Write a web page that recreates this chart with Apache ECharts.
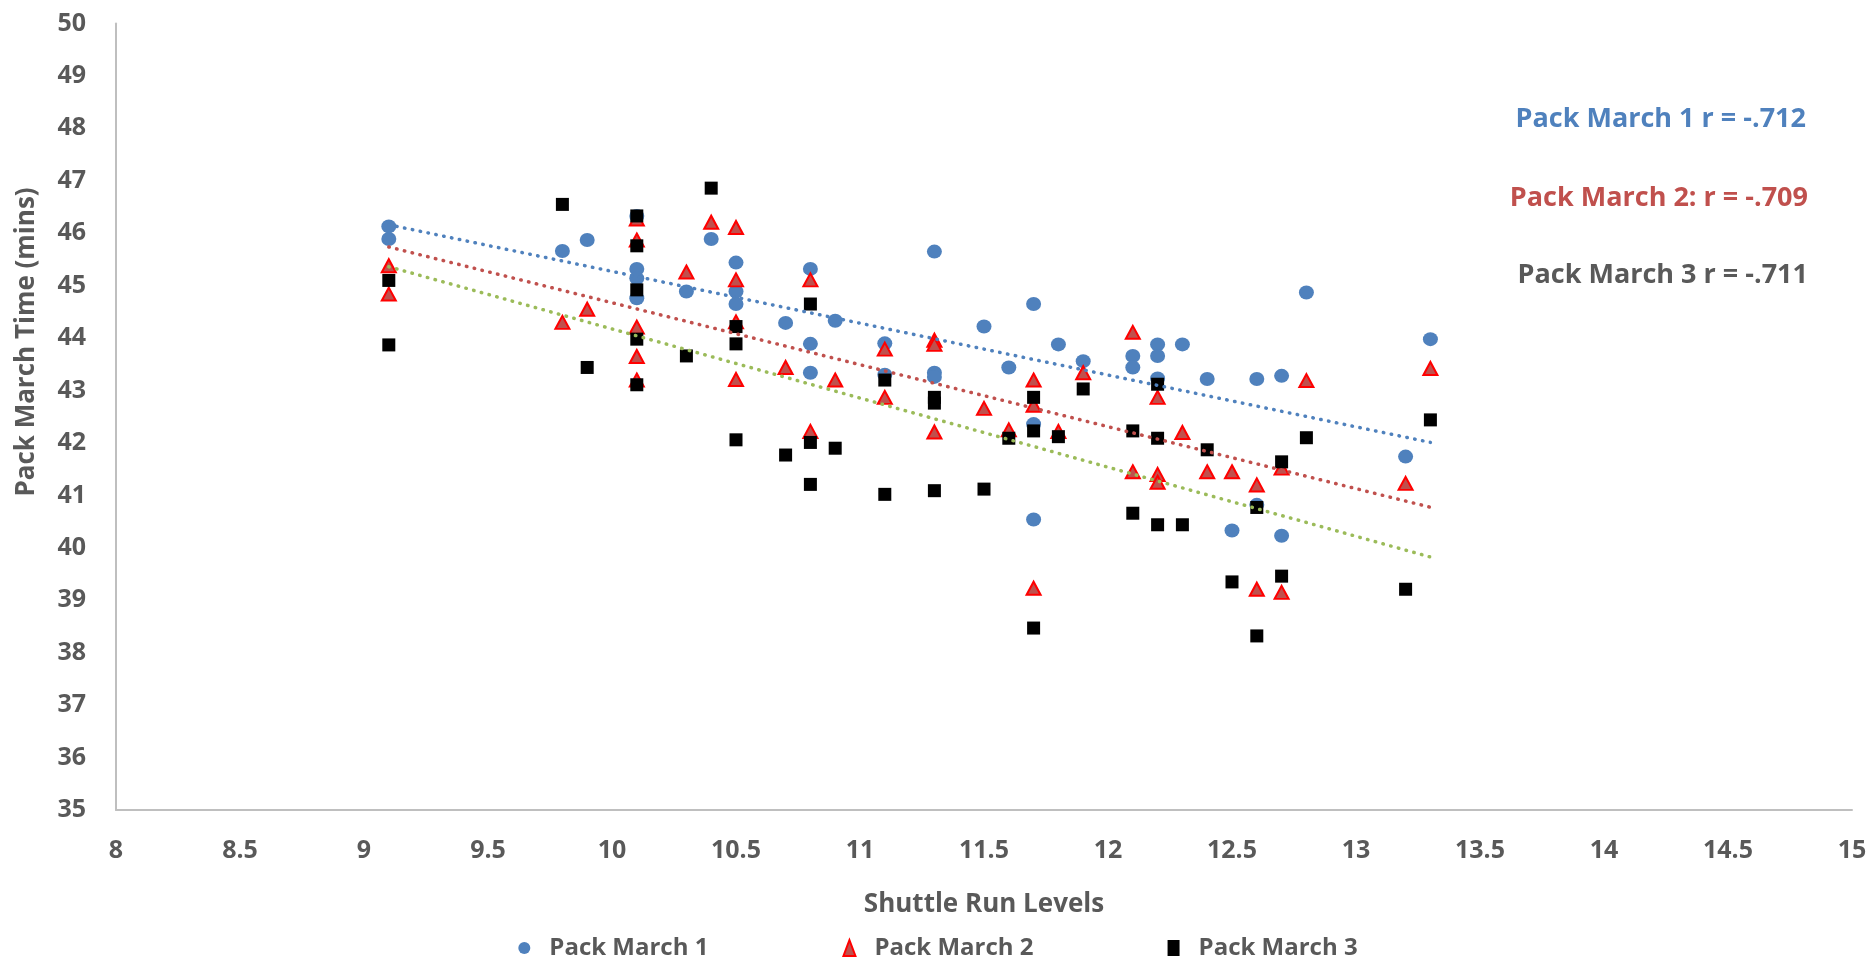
<!DOCTYPE html>
<html><head><meta charset="utf-8">
<script src="https://cdn.jsdelivr.net/npm/echarts@6/dist/echarts.min.js"></script>
<style>html,body{margin:0;padding:0;background:#fff}#chart{width:1876px;height:960px}</style>
</head><body><div id="chart"></div>
<script>
// Series names
const seriesNames = ['Pack March 1', 'Pack March 2', 'Pack March 3'];
// Correlation annotations
const corrLabels = ['Pack March 1 r = -.712', 'Pack March 2: r = -.709', 'Pack March 3 r = -.711'];
// Axis titles
const xTitle = 'Shuttle Run Levels';
const yTitle = 'Pack March Time (mins)';

// [shuttle run level, pack march time]
const pm1 = [
[9.1,46.13],[9.1,45.89],
[9.8,45.66],
[9.9,45.87],
[10.1,46.33],[10.1,45.32],[10.1,45.14],[10.1,44.76],
[10.3,44.89],
[10.4,45.89],
[10.5,45.44],[10.5,44.89],[10.5,44.65],
[10.7,44.29],
[10.8,45.32],[10.8,43.89],[10.8,43.34],
[10.9,44.33],
[11.1,43.90],[11.1,43.30],
[11.3,45.65],[11.3,43.34],[11.3,43.26],
[11.5,44.22],
[11.6,43.44],
[11.7,44.65],[11.7,42.36],[11.7,40.54],
[11.8,43.88],
[11.9,43.56],
[12.1,43.66],[12.1,43.44],
[12.2,43.88],[12.2,43.66],[12.2,43.23],
[12.3,43.88],
[12.4,43.22],
[12.5,40.33],
[12.6,43.22],[12.6,40.82],
[12.7,43.28],[12.7,40.23],
[12.8,44.87],
[13.2,41.74],
[13.3,43.98]
];
const pm2 = [
[9.1,45.38],[9.1,44.84],
[9.8,44.30],
[9.9,44.55],
[10.1,46.27],[10.1,45.87],[10.1,44.21],[10.1,43.65],[10.1,43.20],
[10.3,45.26],
[10.4,46.21],
[10.5,46.11],[10.5,45.11],[10.5,44.31],[10.5,43.21],
[10.7,43.44],
[10.8,45.11],[10.8,42.22],
[10.9,43.20],
[11.1,43.79],[11.1,42.87],
[11.3,43.96],[11.3,43.88],[11.3,42.21],
[11.5,42.66],
[11.6,42.25],
[11.7,43.20],[11.7,42.72],[11.7,39.23],
[11.8,42.22],
[11.9,43.34],
[12.1,44.11],[12.1,41.45],
[12.2,42.87],[12.2,41.40],[12.2,41.25],
[12.3,42.20],
[12.4,41.45],
[12.5,41.45],
[12.6,41.20],[12.6,39.21],
[12.7,41.52],[12.7,39.15],
[12.8,43.19],
[13.2,41.23],
[13.3,43.42]
];
const pm3 = [
[9.1,45.10],[9.1,43.87],
[9.8,46.55],
[9.9,43.44],
[10.1,46.33],[10.1,45.76],[10.1,44.92],[10.1,43.98],[10.1,43.11],
[10.3,43.66],
[10.4,46.86],
[10.5,44.22],[10.5,43.89],[10.5,42.06],
[10.7,41.77],
[10.8,44.65],[10.8,42.01],[10.8,41.21],
[10.9,41.90],
[11.1,43.20],[11.1,41.02],
[11.3,42.87],[11.3,42.76],[11.3,41.09],
[11.5,41.12],
[11.6,42.09],
[11.7,42.87],[11.7,42.23],[11.7,38.47],
[11.8,42.12],
[11.9,43.03],
[12.1,42.23],[12.1,40.66],
[12.2,43.12],[12.2,42.09],[12.2,40.44],
[12.3,40.44],
[12.4,41.87],
[12.5,39.35],
[12.6,40.77],[12.6,38.32],
[12.7,41.64],[12.7,39.46],
[12.8,42.10],
[13.2,39.21],
[13.3,42.44]
];

// least-squares linear trendline over the data's x range
function trend(pts) {
  const n = pts.length;
  let sx = 0, sy = 0, sxx = 0, sxy = 0, mn = Infinity, mx = -Infinity;
  pts.forEach(([x, y]) => { sx += x; sy += y; sxx += x * x; sxy += x * y; mn = Math.min(mn, x); mx = Math.max(mx, x); });
  const b = (n * sxy - sx * sy) / (n * sxx - sx * sx);
  const a = (sy - b * sx) / n;
  return [[mn, a + b * mn], [mx, a + b * mx]];
}

const FONT = 'Open Sans';
const TXT = '#595959';
const chart = echarts.init(document.getElementById('chart'), null, { renderer: 'canvas' });

const dotted = (color) => ({ color: color, width: 3.5, type: [0.5, 7.5], cap: 'round' });

chart.setOption({
  backgroundColor: '#fff',
  animation: false,
  grid: { left: 116, right: 24, top: 23.5, bottom: 150, containLabel: false },
  xAxis: {
    type: 'value', min: 8, max: 15, interval: 0.5,
    name: xTitle, nameLocation: 'middle', nameGap: 82,
    nameTextStyle: { fontFamily: FONT, fontWeight: 'bold', fontSize: 26, color: TXT },
    axisLine: { show: true, lineStyle: { color: '#BFBFBF', width: 2 } },
    axisTick: { show: false },
    splitLine: { show: false },
    axisLabel: { margin: 28, fontFamily: FONT, fontWeight: 'bold', fontSize: 25, color: TXT }
  },
  yAxis: {
    type: 'value', min: 35, max: 50, interval: 1,
    axisLine: { show: true, lineStyle: { color: '#BFBFBF', width: 2 } },
    axisTick: { show: false },
    splitLine: { show: false },
    axisLabel: { margin: 30, fontFamily: FONT, fontWeight: 'bold', fontSize: 25, color: TXT }
  },
  legend: {
    data: seriesNames, left: 'center', top: 931,
    itemWidth: 12, itemHeight: 16, itemGap: 134,
    textStyle: { fontFamily: FONT, fontWeight: 'bold', fontSize: 24, color: TXT, padding: [0, 0, 0, 14] }
  },
  graphic: [
    { type: 'text', x: 27, y: 342, rotation: Math.PI / 2,
      style: { text: yTitle, fontFamily: FONT, fontWeight: 'bold', fontSize: 26, fill: TXT, align: 'center', verticalAlign: 'middle' } },
    { type: 'text', x: 1806, y: 119,
      style: { text: corrLabels[0], fontFamily: FONT, fontWeight: 'bold', fontSize: 27, fill: '#4F81BD', align: 'right', verticalAlign: 'middle' } },
    { type: 'text', x: 1808, y: 198,
      style: { text: corrLabels[1], fontFamily: FONT, fontWeight: 'bold', fontSize: 27, fill: '#C0504D', align: 'right', verticalAlign: 'middle' } },
    { type: 'text', x: 1808, y: 275,
      style: { text: corrLabels[2], fontFamily: FONT, fontWeight: 'bold', fontSize: 27, fill: TXT, align: 'right', verticalAlign: 'middle' } }
  ],
  series: [
    { name: seriesNames[0], type: 'scatter', data: pm1, symbol: 'circle', symbolSize: [15, 14],
      itemStyle: { color: '#4F81BD', opacity: 1 }, z: 2 },
    { name: seriesNames[1], type: 'scatter', data: pm2, symbol: 'triangle', symbolSize: [14, 13],
      itemStyle: { color: '#C0504D', borderColor: '#FF0000', borderWidth: 2, opacity: 1 }, z: 3 },
    { name: seriesNames[2], type: 'scatter', data: pm3, symbol: 'rect', symbolSize: [13, 13],
      itemStyle: { color: '#000000', opacity: 1 }, z: 4 },
    { type: 'line', data: trend(pm1), symbol: 'none', silent: true, lineStyle: dotted('#4F81BD'), z: 5 },
    { type: 'line', data: trend(pm2), symbol: 'none', silent: true, lineStyle: dotted('#C0504D'), z: 5 },
    { type: 'line', data: trend(pm3), symbol: 'none', silent: true, lineStyle: dotted('#9BBB59'), z: 5 }
  ]
});
</script>
</body></html>
